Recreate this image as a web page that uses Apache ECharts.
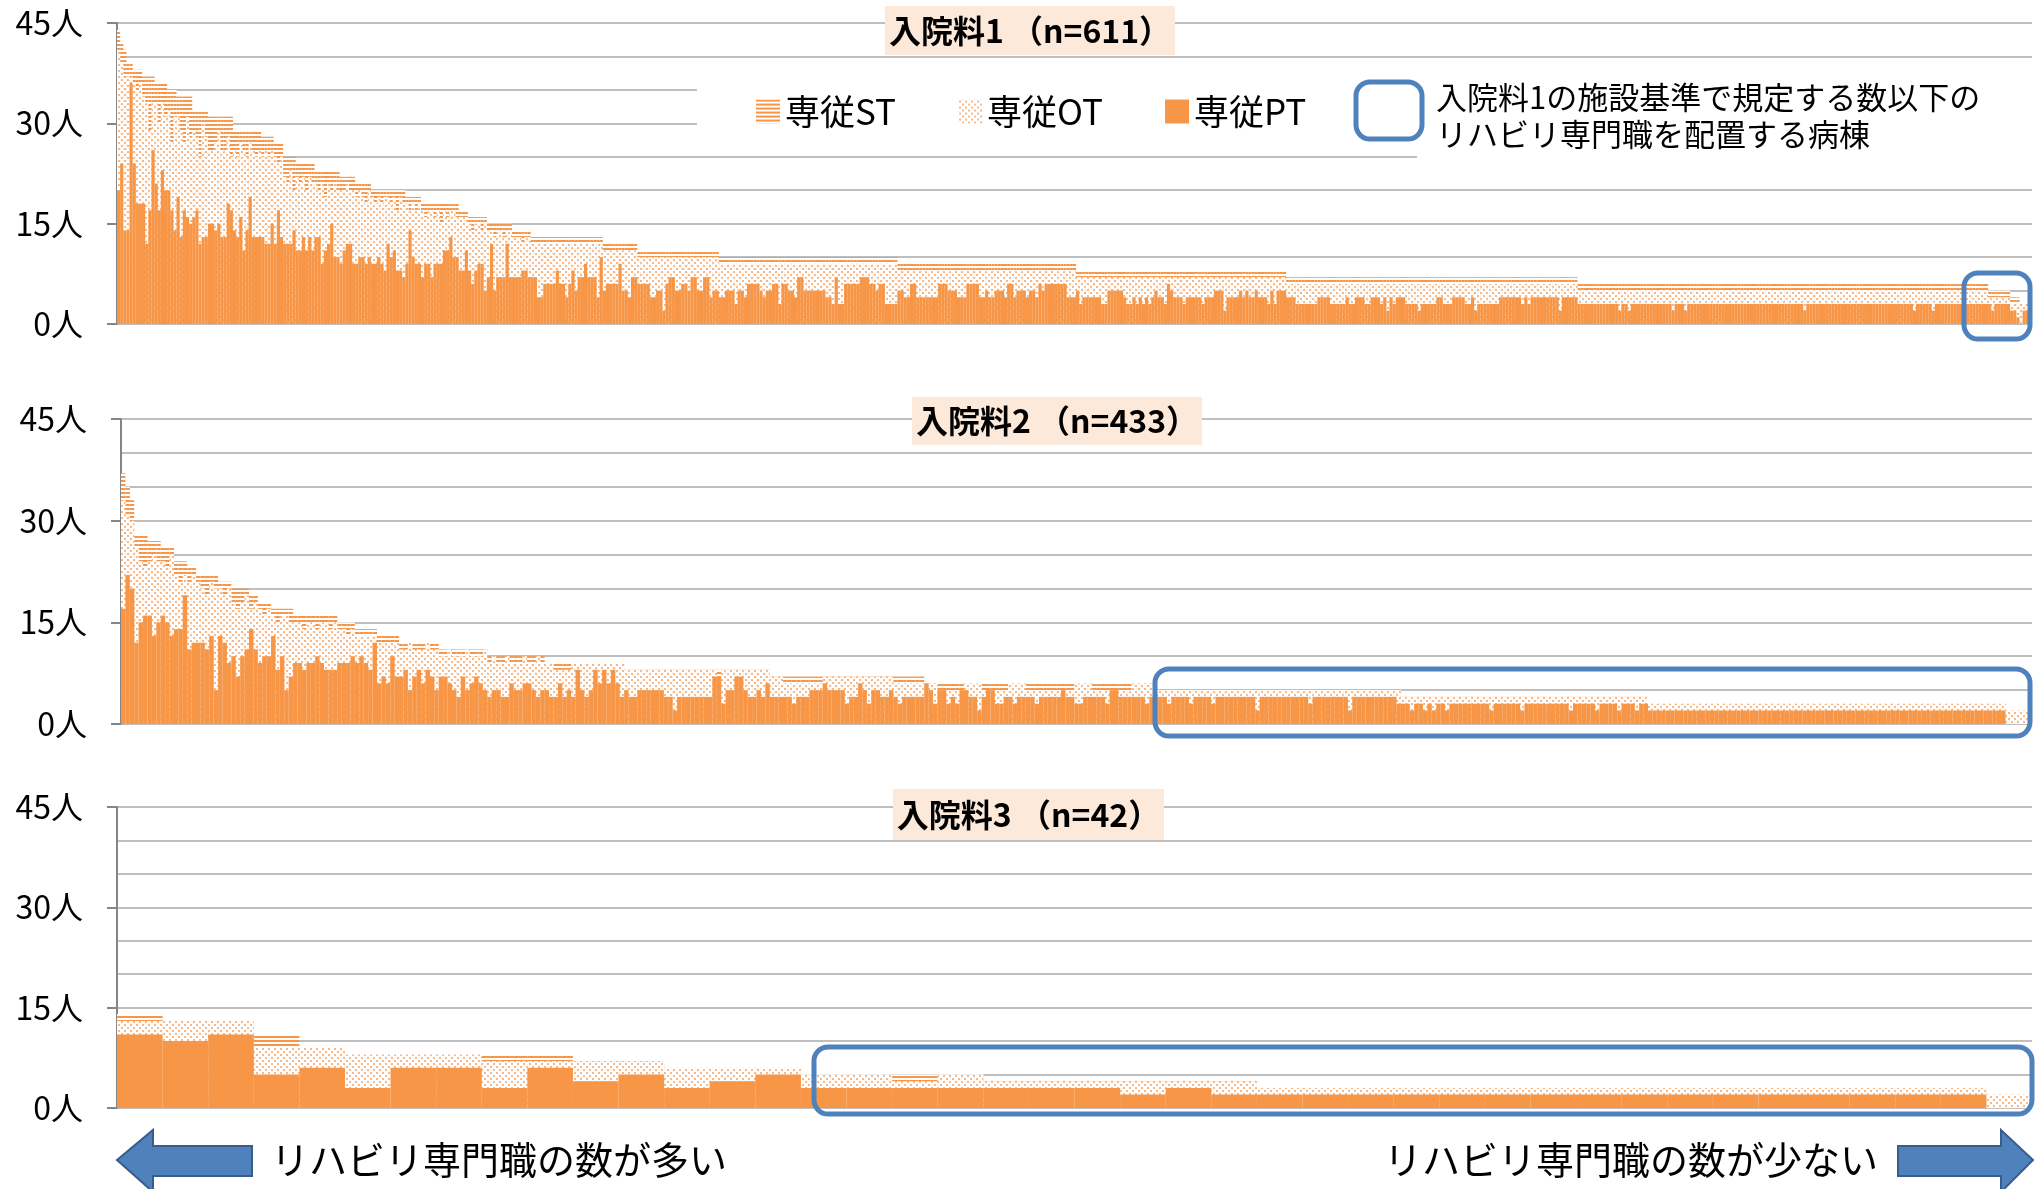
<!DOCTYPE html>
<html><head><meta charset="utf-8">
<script src="https://cdn.jsdelivr.net/npm/echarts/dist/echarts.min.js"></script>
<style>html,body{margin:0;padding:0;background:#fff}#c{width:2042px;height:1189px}</style>
</head><body><div id="c"></div>
<script>
// ---------- DATA ----------
// Items: plain number = one bar; [value, count] = run of bars with the same value.
// Each panel: total height (top of ST stripes), top of OT dots (PT+OT), PT height.
const seriesNames = ['専従ST', '専従OT', '専従PT'];
const panelTitles = ['入院料1 （n=611）', '入院料2 （n=433）', '入院料3 （n=42）'];
const yTicks = [0, 15, 30, 45];

// 入院料1 (611 wards)
const p1Total = [44,42,41,[39,2],[38,3],[37,4],[36,4],[35,3],[34,5],[32,5],[31,8],[29,9],[28,4],[27,3],[25,4],[24,6],[23,8],[22,5],[21,5],[20,11],[19,5],[18,12],[17,3],[16,6],[15,8],[14,6],[13,23],[12,11],[11,26],[10,57],[9,57],[8,67],[7,93],[6,131],[5,7],[4,3],[3,3],2];
const p1OtTop = [41,39,37,37,37, 36,35,36, 34,33,29,33, 33,30,33,31, 32,27,31, 31,29,27,31,28, 29,28,25,30,28,
  26,26,27,29,26,26,28,25, 26,25,27,26,25,27,26,25,26, 25,26,25,26, 25,24,25, 22,21,23,20, 22,21,22,20,22,21,
  21,20,21,19,21,20,21,20, 20,20,21,20,20, 19,20,19,18,20, 19,18,19,18,19,19,18,19,17,19,18, 18,17,18,17,18,
  17,16,17,17,16,17,15,17,16,17,17,16, 16,16,16, 15,14,15,15,14,15, 14,14,13,14,14,13,14,14, 13,13,13,12,13,13,
  [12,23],[11,11],[10,26],[9,57],[8,57],[7,67],[6,93],[5,131],[4,7],[3,3],[3,3],2];
const p1PT = [20,24,14,14,36,24,18,18,18,12, 17,26,21,17,23,20,20,17,14,19, 13,17,16,15,16,17,12,13,13,15,
  15,14,15,13,13,18,17,14,13,16, 11,14,19,13,13,13,13,12,12,15, 12,17,13,12,12,12,14,11,11,13,
  11,13,11,13,13,9,11,12,15,10, 10,9,11,12,12,9,9,10,10,9, 10,9,9,10,9,8,12,10,11,8,
  8,7,9,14,10,9,9,7,9,9, 7,9,9,9,11,11,13,10,10,8, 8,11,8,6,8,9,9,5,7,12, 5,7,7,7,12,7,7,7,7,8, 8,7,
  7,7,4,4,[6,4],8,6,6,4,6,8,5,7,7,9,[7,3],4,10,5,[6,4],9,5,5,4,7,7,[6,4],4,4,5,5,2,6,7,7,5,5,6,6,5,7,7,5,5,7,7,4,5,5,4,4,[5,3],3,5,5,4,[6,4],5,4,5,5,6,6,3,6,6,5,5,4,7,7,[5,7],4,4,3,7,3,3,[6,5],[7,3],6,6,5,6,6,[3,4],5,5,4,4,6,6,[4,7],[6,3],[5,3],[4,3],[6,4],4,4,5,4,4,[5,3],4,6,6,4,[5,3],4,5,5,4,6,5,
  [6,7],[4,3],5,3,[4,6],[3,2],[5,5],4,[3,2],4,3,4,3,4,3,4,5,[4,2],3,6,5,[4,3],3,[4,5],3,[4,3],[5,3],2,[4,4],5,4,5,[4,2],5,[4,3],3,5,3,[5,3],[4,3],[3,7],[4,4],[3,5],4,[3,2],[4,3],[3,2],[4,3],3,4,2,4,3,[4,3],[3,4],2,[3,5],[4,2],[3,3],[4,4],[3,2],4,2,[3,7],[4,7],3,4,3,[4,8],
  4,2,[4,5],[3,13],2,[3,2],2,[3,13],2,[3,3],2,[3,37],2,[3,34],2,[3,5],2,[3,17],3,2,[3,5],2,2,1,0,2,2,2];

// 入院料2 (433 wards)
const p2Total = [37,35,33,[28,3],[27,3],[26,3],[24,3],[23,2],[22,5],[21,3],[20,4],[19,2],[18,3],[17,5],[16,10],[15,4],[14,5],[13,5],[12,9],[11,11],[10,13],[9,18],[8,33],[7,35],[6,52],[5,56],[4,56],[3,81],[2,6]];
const p2OtTop = [33,31,30, 26,24,23, 24,25,24, 24,23,25, 22,21,22, 21,22, 21,20,19,21,20, 20,19,20, 18,17,18,19, 17,18, 17,16,17,
  16,15,16,16,15, 15,15,14,15,15,14,15,15,14,15, 14,14,13,14, [13,5],[12,5], 11,11,12,11,11,11,12,11,11,
  10,10,11,10,10,10,11,10,10,10,11, 9,10,9,9,10,9,9,9,10,9,9,10,9, 9,9,8,8,8,8,[9,12],
  [8,21],7,[8,11],[7,3],[6,9],[7,16],[6,7],[6,3],[5,6],[6,4],[5,6],[6,4],[5,11],[6,4],[5,9],[6,5],
  [5,56],[4,56],[3,81],[2,6]];
const p2PT = [17,22,20,12,15,16,16,13,15,16, 15,13,14,14,19,11,12,12,12,11, 13,5,13,12,9,10,7,10,11,14,
  11,9,10,10,13,8,10,5,7,9, 9,8,9,9,10,9,8,8,8,9, 9,9,10,9,10,9,8,12,6,7, 6,10,7,7,8,5,7,8,6,8,
  7,5,7,7,6,5,4,7,5,6, 7,6,5,4,5,5,4,4,6,5, 5,6,6,5,4,5,5,4,4,6, 4,5,4,8,5,4,5,8,6,8, 6,8,6,4,
  5,[4,2],[5,6],[4,2],2,[4,8],[7,2],3,[5,2],[7,2],5,[4,2],5,4,6,[4,5],3,[4,3],[5,3],6,[5,4],3,[4,2],6,5,3,[5,2],[4,2],5,4,3,[4,5],6,5,3,[5,2],3,4,3,[5,2],[4,2],2,4,[5,2],[3,2],[4,2],3,[4,4],3,[4,5],5,[4,2],[3,2],[4,5],3,[5,2],[4,6],3,4,
  [4,3],3,[4,4],3,[4,4],3,[4,9],2,[4,11],3,[4,8],2,[4,10],3,
  [3,2],2,[3,2],2,3,2,[3,2],2,[3,9],2,[3,6],2,[3,10],2,[3,5],2,[3,4],2,[3,3],2,[3,2],
  [2,81],[0,6]];

// 入院料3 (42 wards)
const p3Total = [14,13,13,11,9,8,8,8,8,8,7,7,6,6,6,5,5,5,5,4,4,4,4,4,4,[3,16],2];
const p3OtTop = [13,13,13,9,9,8,8,8,7,7,7,7,6,6,6,5,5,4,5,4,4,4,4,4,4,[3,16],2];
const p3PT    = [11,10,11,5,6,3,6,6,3,6,4,5,3,4,5,3,3,3,3,3,3,3,2,3,2,[2,16],0];
const panelCounts = [611, 433, 42];

// ---------- helpers ----------
function expand(list) {
  const out = [];
  list.forEach(it => { if (Array.isArray(it)) { for (let i = 0; i < it[1]; i++) out.push(it[0]); } else out.push(it); });
  return out;
}
const panels = [
  [expand(p1Total), expand(p1OtTop), expand(p1PT)],
  [expand(p2Total), expand(p2OtTop), expand(p2PT)],
  [expand(p3Total), expand(p3OtTop), expand(p3PT)]
];
panels.forEach((p, i) => p.forEach((arr, j) => {
  if (arr.length !== panelCounts[i]) throw new Error('length mismatch panel ' + (i + 1) + ' series ' + j + ': ' + arr.length);
}));

function makeStripe() {
  const c = document.createElement('canvas'); c.width = 4; c.height = 4;
  const g = c.getContext('2d');
  g.fillStyle = '#FFFFFF'; g.fillRect(0, 0, 4, 4);
  g.fillStyle = '#F79646'; g.fillRect(0, 0, 4, 2);
  return c;
}
function makeDots() {
  const c = document.createElement('canvas'); c.width = 6; c.height = 6;
  const g = c.getContext('2d');
  g.fillStyle = '#FFFFFF'; g.fillRect(0, 0, 6, 6);
  g.fillStyle = '#F9B888'; g.fillRect(1, 1, 2, 2); g.fillRect(4, 4, 2, 2);
  return c;
}
const stripePat = { image: makeStripe(), repeat: 'repeat' };
const dotPat = { image: makeDots(), repeat: 'repeat' };
const PT_COLOR = '#F79646';
const FONT = '"Noto Sans CJK JP","Noto Sans",sans-serif';
const BLUE = '#4F81BD';

const grids = [
  { left: 117, top: 23, width: 1915, height: 301, outerBoundsMode: 'none', containLabel: false },
  { left: 121, top: 419, width: 1911, height: 305, outerBoundsMode: 'none', containLabel: false },
  { left: 117, top: 807, width: 1915, height: 301, outerBoundsMode: 'none', containLabel: false }
];
const xAxes = [], yAxes = [], series = [];
panels.forEach((p, i) => {
  xAxes.push({ gridIndex: i, type: 'category', data: p[0].map((_, k) => k + 1),
    axisLine: { show: false }, axisTick: { show: false }, axisLabel: { show: false }, splitLine: { show: false } });
  yAxes.push({ gridIndex: i, type: 'value', position: 'left', min: 0, max: 45, interval: 5,
    axisLine: { show: false }, axisTick: { show: false }, axisLabel: { show: false },
    splitLine: { show: true, lineStyle: { color: '#BFBFBF', width: 2 } } });
  yAxes.push({ gridIndex: i, type: 'value', position: 'left', offset: 0, min: 0, max: 45, interval: 15,
    axisLine: { show: true, onZero: false, lineStyle: { color: '#868686', width: 2 } },
    axisTick: { show: true, length: 10, lineStyle: { color: '#868686', width: 2 } },
    axisLabel: { show: true, formatter: v => yTicks.includes(v) ? v + '人' : '', fontSize: 32, color: '#000', fontFamily: FONT, margin: 34 },
    splitLine: { show: false } });
  const colors = [stripePat, dotPat, PT_COLOR];
  for (let j = 0; j < 3; j++) {
    series.push({ type: 'bar', name: seriesNames[j], xAxisIndex: i, yAxisIndex: 2 * i, data: p[j],
      barGap: '-100%', barCategoryGap: '0%', silent: true, z: 2 + j * 0.1,
      itemStyle: { color: colors[j] } });
  }
});

function titleBox(x, y, w, h, text) {
  return [
    { type: 'rect', z: 10, shape: { x: x, y: y, width: w, height: h }, style: { fill: '#FDE9D9' } },
    { type: 'text', z: 11, x: x + w / 2, y: y + h / 2, style: { text: text, font: 'bold 32px ' + FONT, fill: '#000', align: 'center', verticalAlign: 'middle', textAlign: 'center', textVerticalAlign: 'middle' } }
  ];
}
function blueBox(x, y, w, h) {
  return { type: 'rect', z: 12, shape: { x: x, y: y, width: w, height: h, r: 14 }, style: { fill: 'none', stroke: BLUE, lineWidth: 5 } };
}
function txt(x, y, s, size, align) {
  return { type: 'text', z: 11, x: x, y: y, style: { text: s, font: size + 'px ' + FONT, fill: '#000', align: align, verticalAlign: 'middle', textAlign: align, textVerticalAlign: 'middle' } };
}

const graphic = [].concat(
  [
    { type: 'rect', z: 3, shape: { x: 697, y: 80, width: 720, height: 66 }, style: { fill: '#FFFFFF' } },
    { type: 'rect', z: 3, shape: { x: 1417, y: 76, width: 625, height: 88 }, style: { fill: '#FFFFFF' } }
  ],
  titleBox(885, 6, 290, 49, panelTitles[0]),
  titleBox(912, 397, 290, 48, panelTitles[1]),
  titleBox(893, 789, 271, 51, panelTitles[2]),
  [
    blueBox(1356, 82, 66, 57),
    txt(1436, 97, '入院料1の施設基準で規定する数以下の', 31, 'left'),
    txt(1436, 134, 'リハビリ専門職を配置する病棟', 31, 'left'),
    blueBox(1964, 273, 66, 66),
    blueBox(1155, 669, 875, 67),
    blueBox(814, 1047, 1218, 67),
    { type: 'polygon', z: 11, shape: { points: [[117,1160],[153,1130],[153,1146],[252,1146],[252,1176],[153,1176],[153,1192]] }, style: { fill: BLUE, stroke: '#385D8A', lineWidth: 2 } },
    { type: 'polygon', z: 11, shape: { points: [[2033,1160],[2001,1130],[2001,1146],[1898,1146],[1898,1176],[2001,1176],[2001,1192]] }, style: { fill: BLUE, stroke: '#385D8A', lineWidth: 2 } },
    txt(271, 1160, 'リハビリ専門職の数が多い', 38, 'left'),
    txt(1878, 1160, 'リハビリ専門職の数が少ない', 38, 'right')
  ]
);

const chart = echarts.init(document.getElementById('c'), null, { renderer: 'canvas' });
chart.setOption({
  animation: false,
  backgroundColor: '#FFFFFF',
  legend: { data: seriesNames, left: 751, top: 89, itemWidth: 24, itemHeight: 24, itemGap: 62, icon: 'rect',
    selectedMode: false, textStyle: { fontSize: 35, color: '#000', fontFamily: FONT } },
  grid: grids,
  xAxis: xAxes,
  yAxis: yAxes,
  series: series,
  graphic: graphic
});
</script>
</body></html>
